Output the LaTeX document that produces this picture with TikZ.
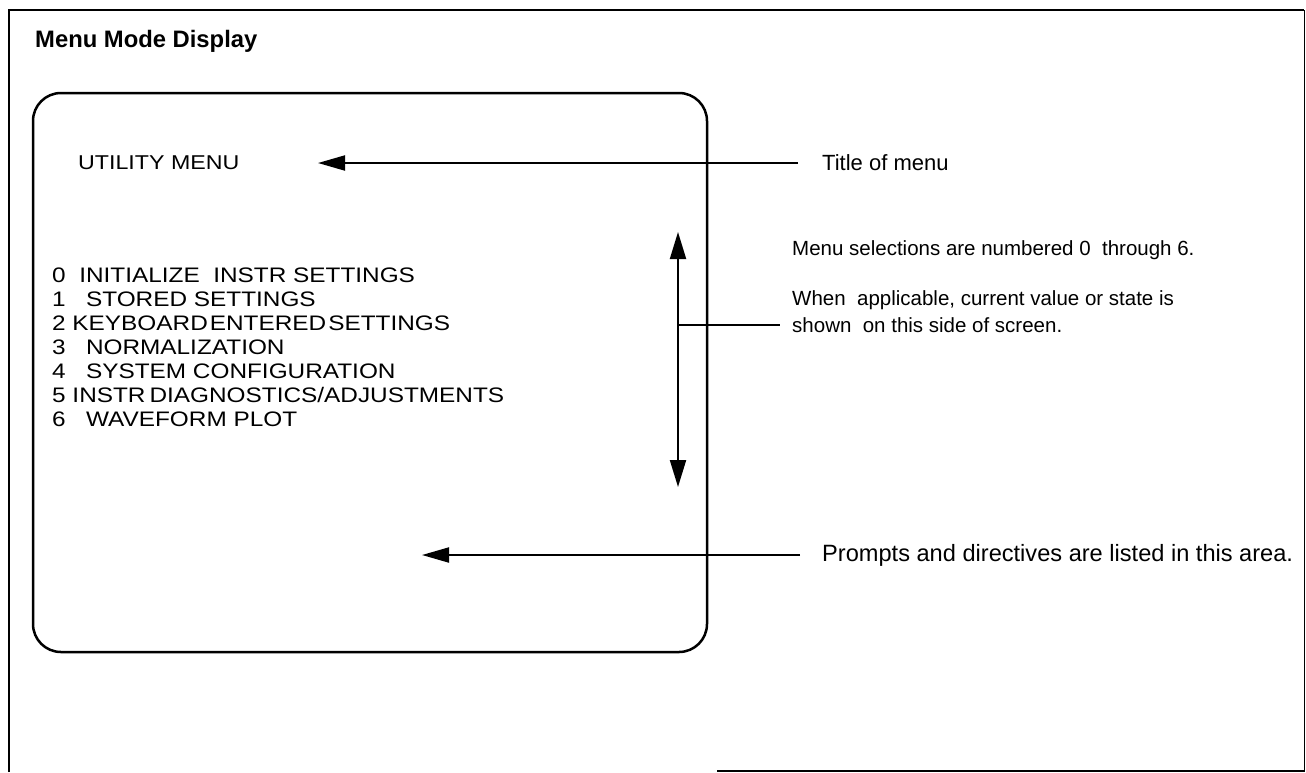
\documentclass[tikz,border=0pt]{standalone}
\usepackage{fontspec}
\setmainfont{Liberation Sans}
\newfontfamily\menufont[FakeStretch=1.16]{Liberation Sans}
\usetikzlibrary{arrows.meta}
\begin{document}
\begin{tikzpicture}[x=1pt,y=-1pt,
  lbl/.style={anchor=west, inner sep=0pt, font=\fontsize{20.5}{24}\selectfont},
  item/.style={anchor=west, inner sep=0pt, font=\menufont\fontsize{21}{24}\selectfont},
  conn/.style={line width=2pt},
  tip/.style={-{Triangle[length=27pt,width=15pt]}},
  dtip/.style={{Triangle[length=27pt,width=16pt]}-{Triangle[length=27pt,width=16pt]}},
  frame/.style={line width=2pt}]
\useasboundingbox (0,0) rectangle (1306,772);
% outer frame
\draw[frame] (9,772) -- (9,10) -- (1304,10);
\draw[line width=0.8pt] (1304,10) -- (1304,772);
\draw[frame] (717,771) -- (1304,771);
% title
\node[anchor=west, inner sep=0pt, font=\bfseries\fontsize{23.8}{28}\selectfont] (title) at (35,41) {Menu Mode Display};
% screen
\node[draw, line width=2.5pt, rounded corners=28pt, minimum width=674pt, minimum height=559pt, inner sep=0pt] (screen) at (370,372.5) {};
% screen contents
\node[anchor=west, inner sep=0pt, font=\menufont\fontsize{20}{24}\selectfont] (umenu) at (78,163) {UTILITY MENU};
\node[item] (it0) at (52,275) {0\ \ INITIALIZE\ \ INSTR SETTINGS};
\node[item] (it1) at (52,299) {1\ \ \ STORED SETTINGS};
\node[item] (it2) at (52,323) {2 KEYBOARD\hspace{2pt}ENTERED\hspace{2pt}SETTINGS};
\node[item] (it3) at (52,347) {3\ \ \ NORMALIZATION};
\node[item] (it4) at (52,371) {4\ \ \ SYSTEM CONFIGURATION};
\node[item] (it5) at (52,395) {5\ INSTR\hspace{4pt}DIAGNOSTICS/ADJUSTMENTS};
\node[item] (it6) at (52,419) {6\ \ \ WAVEFORM PLOT};
% right labels
\node[lbl, font=\fontsize{22}{26}\selectfont] (ttl) at (822,163) {Title of menu};
\node[lbl] (sel) at (792,250) {Menu selections are numbered 0\ \ through 6.};
\node[lbl] (app1) at (792,300) {When\ \ applicable, current value or state is};
\node[lbl] (app2) at (792,325) {shown\ \ on this side of screen.};
\node[lbl, font=\fontsize{23.6}{26}\selectfont] (prm) at (822,555) {Prompts and directives are listed in this area.};
% connectors
\coordinate (ttip) at (318,163);
\coordinate (tend) at (798,163);
\draw[conn,tip] (tend) -- (ttip);
\coordinate (vtop) at (678,232);
\coordinate (vbot) at (678,487);
\draw[conn,dtip] (vtop) -- (vbot);
\coordinate (vmid) at (678,325);
\coordinate (vend) at (780,325);
\draw[conn] (vmid) -- (vend);
\coordinate (ptip) at (422,555);
\coordinate (pend) at (800,555);
\draw[conn,tip] (pend) -- (ptip);
\end{tikzpicture}
\end{document}
